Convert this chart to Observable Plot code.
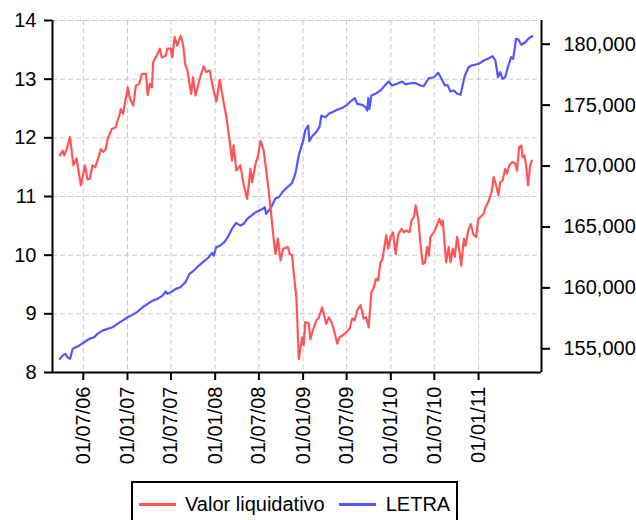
<!DOCTYPE html>
<html><head><meta charset="utf-8">
<script src="https://cdn.jsdelivr.net/npm/d3@7"></script>
<script src="https://cdn.jsdelivr.net/npm/@observablehq/plot@0.6"></script>
<style>
body{margin:0;background:#fff;font-family:"Liberation Sans",Arial,sans-serif;}
#wrap{position:relative;width:636px;height:520px;overflow:hidden;}
#legend{position:absolute;left:131px;top:481px;width:323px;height:42px;border:2px solid #000;display:flex;align-items:center;font-size:20px;color:#000;background:#fff;}
.sw{display:inline-block;width:37px;height:3px;}
</style></head>
<body><div id="wrap"></div>
<script>
// Valor liquidativo (left axis)
const valorDates = [
"2006-03-26","2006-04-06","2006-04-13","2006-04-23","2006-05-07","2006-05-21","2006-06-03","2006-06-21","2006-07-08","2006-07-19","2006-07-28","2006-08-08","2006-08-20","2006-09-05","2006-09-12","2006-09-22","2006-10-03","2006-10-10","2006-10-28","2006-11-13","2006-11-28","2006-12-04","2006-12-14",
"2007-01-02","2007-01-11","2007-01-25","2007-02-05","2007-02-19","2007-03-02","2007-03-19","2007-03-26","2007-04-04","2007-04-13","2007-04-18","2007-05-06","2007-05-16","2007-05-24","2007-06-09","2007-06-16","2007-06-30","2007-07-07","2007-07-16","2007-07-27","2007-08-10","2007-08-20","2007-08-30","2007-09-06","2007-09-23","2007-10-01","2007-10-11","2007-10-29","2007-11-14","2007-11-25","2007-12-09","2007-12-23",
"2008-01-06","2008-01-20","2008-02-03","2008-02-17","2008-03-01","2008-03-11","2008-03-18","2008-03-29","2008-04-15","2008-04-29","2008-05-13","2008-05-27","2008-06-03","2008-06-17","2008-06-26","2008-07-08","2008-07-21","2008-08-04","2008-08-18","2008-09-01","2008-09-08","2008-09-18","2008-09-29","2008-10-10","2008-10-29","2008-11-06","2008-11-16","2008-11-23","2008-12-04","2008-12-14","2008-12-28",
"2009-01-03","2009-01-10","2009-01-24","2009-01-31","2009-02-11","2009-02-25","2009-03-07","2009-03-21","2009-04-07","2009-04-18","2009-05-02","2009-05-13","2009-05-23","2009-06-01","2009-06-23","2009-07-13","2009-07-24","2009-08-04","2009-08-14","2009-08-28","2009-09-10","2009-09-20","2009-10-01","2009-10-12","2009-10-22","2009-11-01","2009-11-09","2009-11-19","2009-11-26","2009-12-03","2009-12-13","2009-12-21","2009-12-31",
"2010-01-10","2010-01-21","2010-02-01","2010-02-15","2010-02-24","2010-03-07","2010-03-20","2010-03-28","2010-04-07","2010-04-14","2010-04-25","2010-05-05","2010-05-14","2010-05-23","2010-06-01","2010-06-08","2010-06-15","2010-06-29","2010-07-09","2010-07-22","2010-07-31","2010-08-05","2010-08-19","2010-08-30","2010-09-06","2010-09-16","2010-09-24","2010-10-04","2010-10-11","2010-10-21","2010-11-01","2010-11-08","2010-11-19","2010-11-29","2010-12-12","2010-12-22","2010-12-31",
"2011-01-09","2011-01-23","2011-01-30","2011-02-10","2011-02-24","2011-03-05","2011-03-15","2011-03-25","2011-04-01","2011-04-11","2011-04-22","2011-04-29","2011-05-09","2011-05-22","2011-06-03","2011-06-10","2011-06-19","2011-06-28","2011-07-03","2011-07-11","2011-07-18","2011-07-26","2011-08-04","2011-08-11"];
const valorValues = [
11.70,11.78,11.70,11.81,12.01,11.53,11.65,11.19,11.53,11.29,11.30,11.53,11.50,11.70,11.81,11.76,11.81,11.98,12.15,12.18,12.38,12.49,12.41,
12.86,12.67,12.55,12.89,12.92,13.09,13.09,12.73,12.92,12.86,13.29,13.43,13.52,13.37,13.40,13.52,13.52,13.37,13.72,13.57,13.74,13.60,13.23,13.18,12.75,13.03,12.72,13.01,13.22,13.12,13.15,12.85,
12.62,12.99,12.65,12.35,11.95,11.61,11.87,11.44,11.53,11.19,10.96,11.47,11.24,11.56,11.67,11.95,11.78,11.33,10.82,10.25,10.02,10.28,9.91,10.11,10.14,10.02,10.00,9.68,9.28,8.23,8.60,
8.46,8.86,8.84,8.57,8.72,8.89,8.93,9.11,8.83,8.94,8.83,8.66,8.49,8.60,8.66,8.74,8.92,8.89,9.06,9.15,8.92,8.94,8.77,9.37,9.45,9.60,9.57,9.88,9.91,10.08,10.34,10.11,10.31,
10.39,10.02,10.36,10.45,10.39,10.42,10.39,10.59,10.65,10.85,10.62,10.16,9.85,9.87,10.14,9.99,10.31,10.39,10.48,10.62,10.51,10.59,9.88,10.14,9.88,10.11,9.97,10.31,10.14,9.82,10.28,10.16,10.42,10.53,10.34,10.31,10.62,
10.65,10.71,10.82,10.90,11.07,11.33,11.19,11.02,11.24,11.27,11.47,11.39,11.53,11.59,11.56,11.44,11.84,11.87,11.67,11.70,11.53,11.19,11.53,11.61];

// LETRA (right axis)
const letraDates = [
"2006-03-26","2006-04-06","2006-04-17","2006-04-27","2006-05-07","2006-05-18","2006-05-31","2006-06-14","2006-07-05","2006-07-26","2006-08-15","2006-08-29","2006-09-19","2006-10-10","2006-10-31","2006-11-20","2006-12-11",
"2007-01-02","2007-01-22","2007-02-12","2007-03-05","2007-03-26","2007-04-16","2007-05-06","2007-05-27","2007-06-09","2007-06-16","2007-06-30","2007-07-21","2007-08-09","2007-08-30","2007-09-16","2007-10-04","2007-10-25","2007-11-14","2007-12-05","2007-12-19","2007-12-26",
"2008-01-05","2008-01-23","2008-02-10","2008-02-26","2008-03-11","2008-03-28","2008-04-15","2008-04-29","2008-05-13","2008-05-31","2008-06-17","2008-07-03","2008-07-17","2008-07-25","2008-07-31","2008-08-11","2008-08-25","2008-09-08","2008-09-22","2008-10-06","2008-10-27","2008-11-16","2008-11-30","2008-12-14","2008-12-31",
"2009-01-11","2009-01-22","2009-01-27","2009-02-10","2009-02-24","2009-03-10","2009-03-18","2009-04-04","2009-04-18","2009-05-02","2009-05-23","2009-06-19","2009-07-03","2009-07-17","2009-08-04","2009-08-14","2009-09-04","2009-09-18","2009-09-25","2009-09-29","2009-10-04","2009-10-12","2009-10-29","2009-11-19","2009-12-07","2009-12-23",
"2010-01-06","2010-01-27","2010-02-17","2010-03-03","2010-03-24","2010-04-14","2010-05-05","2010-05-18","2010-06-08","2010-06-29","2010-07-17","2010-07-31","2010-08-14","2010-08-25","2010-09-06","2010-09-20","2010-10-04","2010-10-18","2010-11-05","2010-11-21","2010-12-02","2010-12-16",
"2011-01-02","2011-01-23","2011-02-13","2011-03-01","2011-03-12","2011-03-23","2011-04-01","2011-04-11","2011-04-22","2011-05-03","2011-05-17","2011-05-25","2011-06-06","2011-06-15","2011-06-28","2011-07-15","2011-07-29","2011-08-12"];
const letraValues = [
154171,154443,154580,154303,154171,154993,155124,155262,155534,155812,155944,156224,156494,156634,156766,157044,157316,
157587,157784,158055,158408,158687,158958,159097,159368,159700,159508,159640,159918,160050,160460,161150,161420,161831,162160,162513,162874,162652,
163334,163473,163801,164294,164844,165337,165115,165255,165665,165936,166207,166347,166486,166618,166076,166347,166757,167357,167439,167849,168260,168600,169400,170900,172000,
173000,173325,172050,172504,172775,173186,174146,174007,174286,174417,174614,174828,175025,175300,175567,175107,175025,174828,174557,175567,174700,175788,175928,176199,176609,176938,
176609,176749,176938,176700,176798,176800,176609,176552,177209,177291,177652,177159,176609,176650,176117,176200,175928,175846,177430,178112,178251,178309,
178391,178662,178851,179015,178662,177291,177701,177159,177300,178112,178933,178800,180443,180400,179951,180164,180493,180657];

const xTickDates = ["2006-07-01","2007-01-01","2007-07-01","2008-01-01","2008-07-01","2009-01-01","2009-07-01","2010-01-01","2010-07-01","2011-01-01"];
const leftTicks = [8,9,10,11,12,13,14];
const rightTicks = [155000,160000,165000,170000,175000,180000];

const parse = d3.utcParse("%Y-%m-%d");
const valor = valorDates.map((d,i)=>({date: parse(d), value: valorValues[i]}));
const letra = letraDates.map((d,i)=>({date: parse(d), value: letraValues[i]}));
const toLeft = v => 8.404 + (v - 155000) * 0.00020768;
const fromLeft = v => 155000 + (v - 8.404) / 0.00020768;
const fmt = d3.format(",");
const rightFmt = v => fmt(Math.round(v > 1000 ? v : fromLeft(v)));
const xTicks = xTickDates.map(parse);
const x0 = parse("2006-02-23"), x1 = parse("2011-09-20");
const font = '"Liberation Sans", Arial, sans-serif';
const grid = {stroke:"#c8c8c8", strokeOpacity:1, strokeWidth:1, strokeDasharray:"5,3"};

const chart = Plot.plot({
  width: 636, height: 476,
  marginLeft: 52, marginRight: 95, marginTop: 20, marginBottom: 104,
  style: {fontFamily: font, fontSize: "20px", color: "#000", background: "#fff", overflow: "visible"},
  x: {type: "utc", domain: [x0, x1]},
  y: {domain: [8, 14]},
  marks: [
    Plot.gridX(xTicks, grid),
    Plot.gridY(leftTicks, grid),
    Plot.line(letra, {x: "date", y: d => toLeft(d.value), stroke: "#5555ff", strokeWidth: 2.2}),
    Plot.line(valor, {x: "date", y: "value", stroke: "#ff5555", strokeWidth: 2.2}),
    Plot.axisY(leftTicks, {anchor: "left", tickFormat: d => String(Math.round(d)), tickSize: 8, tickPadding: 8, strokeWidth: 2, fontSize: 20, label: null}),
    Plot.axisY(rightTicks, {anchor: "right", y: toLeft, tickFormat: rightFmt, tickSize: 8, tickPadding: 14, strokeWidth: 2, fontSize: 20, label: null}),
    Plot.axisX(xTicks, {anchor: "bottom", tickFormat: d3.utcFormat("%d/%m/%y"), tickRotate: -90, tickSize: 8, tickPadding: 6, strokeWidth: 2, fontSize: 20, label: null}),
    Plot.ruleX([x0, x1], {stroke: "#000", strokeWidth: 2}),
    Plot.ruleY([8], {stroke: "#000", strokeWidth: 2})
  ]
});
const wrap = document.getElementById("wrap");
wrap.appendChild(chart);
const legend = document.createElement("div");
legend.id = "legend";
legend.innerHTML = '<span class="sw" style="background:#ff5555;margin-left:6px"></span><span style="margin-left:9px">Valor liquidativo</span><span class="sw" style="background:#5555ff;margin-left:14px"></span><span style="margin-left:10px">LETRA</span>';
wrap.appendChild(legend);
</script></body></html>
